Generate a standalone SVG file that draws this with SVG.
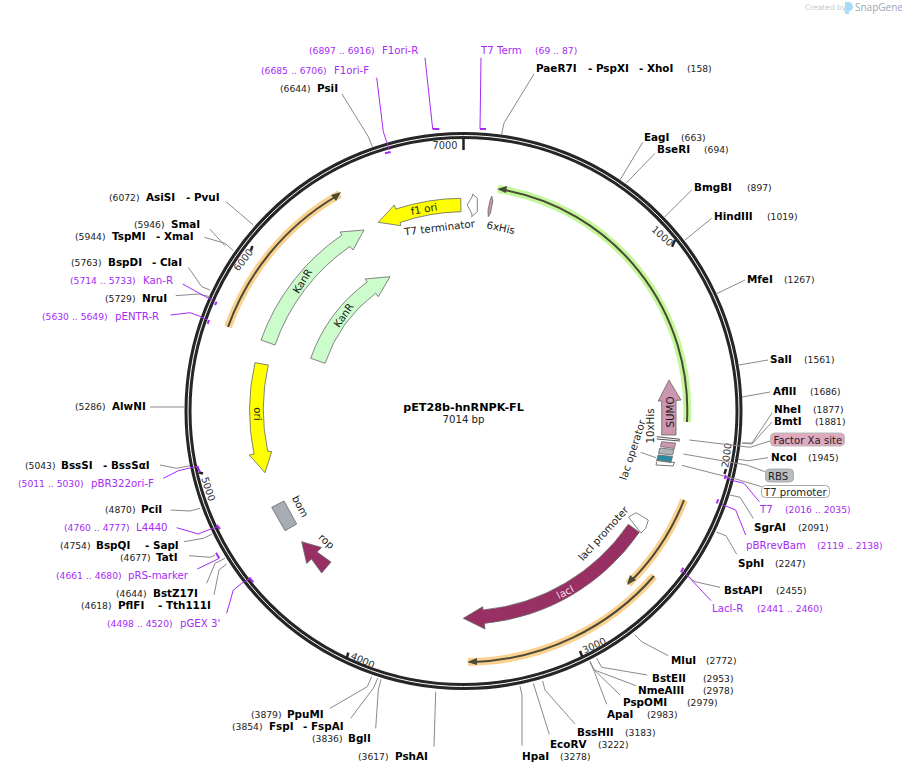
<svg xmlns="http://www.w3.org/2000/svg" width="902" height="773" viewBox="0 0 902 773">
<style>
text{font-family:"DejaVu Sans",Verdana,sans-serif;fill:#222}
.e{font-size:10.4px;font-weight:bold;fill:#000}
.n{font-size:9.2px;fill:#222}
.p{font-size:10.2px;fill:#a52bf5}
.q{font-size:9.2px;fill:#a52bf5}
.l{fill:none;stroke:#8a8a8a;stroke-width:1}
.pl{fill:none;stroke:#a52bf5;stroke-width:1}
.pt{fill:none;stroke:#a52bf5;stroke-width:2}
.f{font-size:10.3px;fill:#1a1a1a}
.c{stroke:#666;stroke-width:.8}
.t{font-size:9.8px;fill:#333}
.tick{stroke:#222;stroke-width:2.5}
.hl{fill:none;stroke-width:8}
.pr{fill:none;stroke:#4a4a38;stroke-width:2}
.pa{fill:#4a4a38}
.box{font-size:10.1px;fill:#222}
</style>
<g id="logo">
<text x="805" y="10" style="font-size:7.5px;fill:#c4c9ce">Created by</text>
<path d="M845 2h3c4 0 5 3 5 5s-2 4-4 4v3h-4z" fill="#a6dcf5"/>
<text x="855" y="11" style="font-family:'Open Sans',sans-serif;font-size:10px;fill:#9aa6b0">SnapGene</text>
</g>
<g id="backbone">
<circle cx="463.5" cy="411" r="275.5" fill="none" stroke="#262626" stroke-width="7"/>
<circle cx="463.5" cy="411" r="275.5" fill="none" stroke="#fff" stroke-width="1"/>
<line class="tick" x1="463.5" y1="138" x2="463.5" y2="150"/>
<line class="tick" x1="675" y1="240" x2="672" y2="246.7"/>
<line class="tick" x1="726" y1="469" x2="724.5" y2="474"/>
<line class="tick" x1="580" y1="651" x2="582.3" y2="656.7"/>
<line class="tick" x1="348.3" y1="652.7" x2="346.7" y2="658.3"/>
<line class="tick" x1="199" y1="472.5" x2="203" y2="473.5"/>
<line class="tick" x1="252.3" y1="246" x2="251" y2="250.7"/>
<text class="t" text-anchor="middle" transform="translate(445 149)">7000</text>
<text class="t" text-anchor="middle" transform="translate(660 238.5) rotate(42)">1000</text>
<text class="t" text-anchor="middle" transform="translate(730 455.6) rotate(-82)">2000</text>
<text class="t" text-anchor="middle" transform="translate(595.6 648.6) rotate(-24)">3000</text>
<text class="t" text-anchor="middle" transform="translate(361.3 663.6) rotate(25)">4000</text>
<text class="t" text-anchor="middle" transform="translate(205 490) rotate(72)">5000</text>
<text class="t" text-anchor="middle" transform="translate(246 262) rotate(-52)">6000</text>
</g>
<g id="title">
<text x="463.5" y="411" text-anchor="middle" style="font-size:11.2px;font-weight:bold;fill:#000">pET28b-hnRNPK-FL</text>
<text x="463.5" y="423" text-anchor="middle" style="font-size:10.2px;fill:#222">7014 bp</text>
</g>
<g id="connectors">
<path class="l" d="M534 74L504 123L501.5 135"/>
<path class="l" d="M642.7 142.3L620 180"/>
<path class="l" d="M655 153.3L626 183.3"/>
<path class="l" d="M691.7 190L664.3 217.3"/>
<path class="l" d="M711.7 218.3L685 240"/>
<path class="l" d="M745 280L716 294"/>
<path class="l" d="M768 360L739 365"/>
<path class="l" d="M770 392L742 397"/>
<path class="l" d="M772 413L752 443L742 443"/>
<path class="l" d="M772 422L752 444L742 443"/>
<path class="l" d="M770 441L750 447.3L689.3 440"/>
<path class="l" d="M768 457.7L748.3 460.7L738.3 459.3"/>
<path class="l" d="M765 471.7L746.7 465L683.3 454"/>
<path class="l" d="M761.7 486.7L736.7 479.3L681.7 465.3"/>
<path class="l" d="M753.3 518.3L740 497.3L730 495"/>
<path class="l" d="M736.7 554.3L726 535.7L716.7 532.3"/>
<path class="l" d="M720 587.3L695 581.7L688.3 576.7"/>
<path class="l" d="M668.3 655.7L641.7 641.7L635 635"/>
<path class="l" d="M647.3 675L601.7 667.3L596.7 658.3"/>
<path class="l" d="M636 685.7L594.3 670L590 661.7"/>
<path class="l" d="M620 695L594.3 670L590 661.7"/>
<path class="l" d="M606.7 704.3L594.3 671.7L590 661.7"/>
<path class="l" d="M575 724L545 690L542.7 681"/>
<path class="l" d="M549.3 734.3L533.3 683.3"/>
<path class="l" d="M522 745.7L522 695.7L520 686"/>
<path class="l" d="M434 746.7L435.7 691.7"/>
<path class="l" d="M375.7 728.3L378.3 690L381 679.3"/>
<path class="l" d="M350.7 718.3L373.3 688.3L377.7 678.3"/>
<path class="l" d="M330 708.3L367.3 686.7L371.7 676.7"/>
<path class="l" d="M214 595L219 570L226.7 564"/>
<path class="l" d="M206.7 583.3L215 563.3L225 558.3"/>
<path class="l" d="M189 555.7L210 557.3L215 555"/>
<path class="l" d="M184 541.7L203.3 538.3L212.3 534"/>
<path class="l" d="M170.7 510L190 511L200 508.3"/>
<path class="l" d="M160 465L176.7 468.3L190 465.7"/>
<path class="l" d="M150 407L185 407"/>
<path class="l" d="M175.7 295.7L198.3 294L210 296.7"/>
<path class="l" d="M188.3 267.3L201.7 286.7L210 290"/>
<path class="l" d="M204.3 237.3L225 243.3L233.3 250.7"/>
<path class="l" d="M210 229.3L225 245.7"/>
<path class="l" d="M226 201.7L253.3 225"/>
<path class="l" d="M342 94L368.3 136.7L372.3 146.7"/>
<path class="pl" d="M425 57.7L432.7 129"/><path class="pt" d="M432.7 129H439.3"/>
<path class="pl" d="M481 57.7L480 129"/><path class="pt" d="M480 129H486"/>
<path class="pl" d="M376.7 77.7L383.3 131.7L389.3 150"/><path class="pt" d="M385 153.3L390.7 152"/>
<path class="pl" d="M759.3 501.7L744 483.3L733.3 480.7L725 477"/><path class="pt" d="M725.7 475L724.7 479"/>
<path class="pl" d="M745.7 535L735.7 510L721.7 504.3"/><path class="pt" d="M718.3 499.3L716.7 503.3"/>
<path class="pl" d="M711 600.7L690 578.3L682 570"/><path class="pt" d="M683.3 567.7L681 572.3"/>
<path class="pl" d="M182.7 284L206.7 297.3L213 300"/><path class="pt" d="M216.7 301.7L215 305"/>
<path class="pl" d="M170.7 315L190 312.7L199.3 316L207.7 320"/><path class="pt" d="M209 320L207.7 324"/>
<path class="pl" d="M163.3 478.3L178.3 470.7L195 466.7L199 467"/><path class="pt" d="M197 466L200 472"/>
<path class="pl" d="M176.7 527.7L198.3 534L210 529.3L216.7 527.3"/><path class="pt" d="M216.7 525L220 529"/>
<path class="pl" d="M197.3 569L219.3 558.3"/><path class="pt" d="M216 552.7L219.3 558.3"/>
<path class="pl" d="M226.7 613.3L233.3 590L241.7 583.3L250 578.3"/><path class="pt" d="M249.3 577.3L253.3 582.3"/>
<path class="l" d="M640.7 452.3L656 457.7"/>
</g>
<g id="primer-arcs">
<path class="hl" stroke="#c4f79a" d="M498 189A224 224 0 0 1 687 422"/>
<path class="pr" d="M504 190A224 224 0 0 1 687 422"/>
<path class="pa" d="M497 189L507 186L506 193Z"/>
<path class="hl" stroke="#fbd18f" d="M228 327A250 250 0 0 1 340 194"/>
<path class="pr" d="M228 327A250 250 0 0 1 335 197"/>
<path class="pa" d="M341 192L331 195L336 201Z"/>
<path class="hl" stroke="#fbd18f" d="M684 500A238 238 0 0 1 628 584"/>
<path class="pr" d="M684 500A238 238 0 0 1 632 580"/>
<path class="pa" d="M627 585L630 575L636 580Z"/>
<path class="hl" stroke="#fbd18f" d="M654 576A251 251 0 0 1 468 662"/>
<path class="pr" d="M654 576A251 251 0 0 1 474 662"/>
<path class="pa" d="M467 662L477 658L477 665Z"/>
</g>
<g id="KanR-1">
<path fill="#ccfccc" class="c" d="M261 340A214 214 0 0 1 342 235L340 232L364 230L353 250L350 246.4A200 200 0 0 0 275 345Z"/>
<text class="f" text-anchor="middle" transform="translate(305.5 283) rotate(-58)">KanR</text>
</g>
<g id="KanR-2">
<path fill="#ccfccc" class="c" d="M310.7 358.3A161 161 0 0 1 367.2 282L365 279L390 276.7L378.3 296.7L375.6 293.2A147 147 0 0 0 325 363.3Z"/>
<text class="f" text-anchor="middle" transform="translate(346.6 317.3) rotate(-55)">KanR</text>
</g>
<g id="ori">
<path fill="#ffff00" class="c" d="M255 362.7A214 214 0 0 0 254 454L249.3 455L265 472.7L271.7 451.7L267.7 451.2A200 200 0 0 1 268.3 365Z"/>
<text class="f" text-anchor="middle" transform="translate(253.5 414) rotate(90)">ori</text>
</g>
<g id="f1-ori">
<path fill="#ffff00" class="c" d="M460.7 198.3A213 213 0 0 0 395.7 209.1L394.3 205L378.3 222.3L400.7 225.7L400.2 222.4A199 199 0 0 1 461 211.7Z"/>
<text class="f" text-anchor="middle" transform="translate(424.7 212.6) rotate(-10)">f1 ori</text>
</g>
<g id="T7-terminator">
<path fill="#fff" class="c" d="M467.3 205L472.5 196L472.7 194L477.3 198.3L477.3 211.7L471.7 216.7L472 214Z"/>
<text class="f" text-anchor="middle" transform="translate(440 231.2) rotate(-7)">T7 terminator</text>
</g>
<g id="His6">
<path fill="#cc96b0" class="c" d="M491.7 196L492.8 201L490.5 213L488.3 216.7L488 210L490 201Z"/>
<text class="f" text-anchor="middle" transform="translate(500 231.2) rotate(12)">6xHis</text>
</g>
<g id="SUMO">
<path fill="#cc96b0" class="c" d="M669 380L681 400L676 400.5L676 435L661.7 435L661.7 401L658.3 401Z"/>
<text class="f" text-anchor="middle" transform="translate(673.5 412) rotate(-90)">SUMO</text>
</g>
<g id="His10">
<path fill="none" stroke="#555" stroke-width="1" d="M656.7 436.7L680 439.3M656.7 439L680 441"/>
<text class="f" text-anchor="middle" transform="translate(653.5 426) rotate(-90)">10xHis</text>
</g>
<g id="Factor-Xa-feature"><path fill="#cc96b0" class="c" d="M661.7 441.7L675.5 443L674.5 448.5L660.5 446.5Z"/></g>
<g id="RBS-feature"><path fill="#aeb4bb" class="c" d="M659.8 448L674 449.5L672.5 455L658.5 453.5Z"/></g>
<g id="lac-operator">
<path fill="#2c8aa3" class="c" d="M658 455L672.5 456.5L671 462.5L656.8 460.5Z"/>
<path fill="none" stroke="#777" stroke-width="1" d="M656 460L675 462.5M656.8 461.5L656 465L673 466L674.5 462"/>
<text class="f" text-anchor="middle" transform="translate(636 451) rotate(-72)">lac operator</text>
</g>
<g id="lacI-promoter">
<path fill="#fff" class="c" d="M628.5 517L636 512.7L648.3 520L645.7 528.3L641 533Z"/>
<text class="f" text-anchor="middle" transform="translate(606 536) rotate(-48)">lacI promoter</text>
</g>
<g id="lacI">
<path fill="#983064" class="c" d="M628.3 524.3A200 200 0 0 1 483 610L482.7 606.7L463.3 618.3L485 629L484.3 623.4A213.5 213.5 0 0 0 639.3 532.3Z"/>
<text class="f" text-anchor="middle" style="fill:#f3dbe7" transform="translate(566.8 595.3) rotate(-27)">lacI</text>
</g>
<g id="rop">
<path fill="#983064" class="c" d="M301.7 541.7L321.5 547.5L317 552L331 562L321.7 573L311.5 559L306.7 563.5Z"/>
<text class="f" text-anchor="middle" transform="translate(324 544) rotate(42)">rop</text>
</g>
<g id="bom">
<path fill="#a8adb5" class="c" d="M271.7 507.3L284 501L296.7 524L285 530.7Z"/>
<text class="f" text-anchor="middle" transform="translate(297 508) rotate(62)">bom</text>
</g>
<g id="site-PaeR7I"><text class="e" x="536" y="72">PaeR7I</text><text class="e" x="588" y="72">- PspXI</text><text class="e" x="639" y="72">- XhoI</text><text class="n" x="687" y="72">(158)</text></g>
<g id="site-EagI"><text class="e" x="644" y="141">EagI</text><text class="n" x="681" y="141">(663)</text></g>
<g id="site-BseRI"><text class="e" x="657" y="153">BseRI</text><text class="n" x="704" y="153">(694)</text></g>
<g id="site-BmgBI"><text class="e" x="694" y="191">BmgBI</text><text class="n" x="747" y="191">(897)</text></g>
<g id="site-HindIII"><text class="e" x="714" y="220">HindIII</text><text class="n" x="767" y="220">(1019)</text></g>
<g id="site-MfeI"><text class="e" x="747" y="283">MfeI</text><text class="n" x="784" y="283">(1267)</text></g>
<g id="site-SalI"><text class="e" x="770" y="363">SalI</text><text class="n" x="804" y="363">(1561)</text></g>
<g id="site-AflII"><text class="e" x="773" y="395">AflII</text><text class="n" x="810" y="395">(1686)</text></g>
<g id="site-NheI"><text class="e" x="774" y="413">NheI</text><text class="n" x="813" y="413">(1877)</text></g>
<g id="site-BmtI"><text class="e" x="774" y="425">BmtI</text><text class="n" x="815" y="425">(1881)</text></g>
<g id="label-FactorXa"><rect x="770.5" y="433" width="74" height="13" rx="4" fill="#dfa9c0" stroke="#bbb"/><text class="box" x="773.5" y="443.5">Factor Xa site</text></g>
<g id="label-RBS"><rect x="765.5" y="469" width="28" height="13" rx="4" fill="#b9bec4" stroke="#aaa"/><text class="box" x="768" y="479.5">RBS</text></g>
<g id="label-T7promoter"><rect x="761.5" y="485.5" width="68" height="12" rx="4" fill="#fff" stroke="#aaa"/><text class="box" x="764" y="495.5">T7 promoter</text></g>
<g id="site-NcoI"><text class="e" x="771" y="461">NcoI</text><text class="n" x="808" y="461">(1945)</text></g>
<g id="primer-T7"><text class="p" x="760" y="513">T7</text><text class="q" x="785" y="513">(2016 .. 2035)</text></g>
<g id="site-SgrAI"><text class="e" x="754" y="531">SgrAI</text><text class="n" x="798" y="531">(2091)</text></g>
<g id="primer-pBRrevBam"><text class="p" x="746" y="549">pBRrevBam</text><text class="q" x="817" y="549">(2119 .. 2138)</text></g>
<g id="site-SphI"><text class="e" x="738" y="567">SphI</text><text class="n" x="775" y="567">(2247)</text></g>
<g id="site-BstAPI"><text class="e" x="724" y="594">BstAPI</text><text class="n" x="776" y="594">(2455)</text></g>
<g id="primer-LacI-R"><text class="p" x="712" y="612">LacI-R</text><text class="q" x="757" y="612">(2441 .. 2460)</text></g>
<g id="site-MluI"><text class="e" x="671" y="664">MluI</text><text class="n" x="706" y="664">(2772)</text></g>
<g id="site-BstEII"><text class="e" x="652" y="682">BstEII</text><text class="n" x="703" y="682">(2953)</text></g>
<g id="site-NmeAIII"><text class="e" x="638" y="694">NmeAIII</text><text class="n" x="703" y="694">(2978)</text></g>
<g id="site-PspOMI"><text class="e" x="623" y="706">PspOMI</text><text class="n" x="687" y="706">(2979)</text></g>
<g id="site-ApaI"><text class="e" x="607" y="718">ApaI</text><text class="n" x="647" y="718">(2983)</text></g>
<g id="site-BssHII"><text class="e" x="577" y="736">BssHII</text><text class="n" x="625" y="736">(3183)</text></g>
<g id="site-EcoRV"><text class="e" x="550" y="748">EcoRV</text><text class="n" x="598" y="748">(3222)</text></g>
<g id="site-HpaI"><text class="e" x="522" y="760">HpaI</text><text class="n" x="560" y="760">(3278)</text></g>
<g id="site-PshAI"><text class="n" x="358" y="760">(3617)</text><text class="e" x="395" y="760">PshAI</text></g>
<g id="site-BglI"><text class="n" x="312" y="742">(3836)</text><text class="e" x="348" y="742">BglI</text></g>
<g id="site-FspI"><text class="n" x="232" y="730">(3854)</text><text class="e" x="269" y="730">FspI</text><text class="e" x="303" y="730">- FspAI</text></g>
<g id="site-PpuMI"><text class="n" x="251" y="718">(3879)</text><text class="e" x="287" y="718">PpuMI</text></g>
<g id="primer-pGEX3"><text class="q" x="107" y="627">(4498 .. 4520)</text><text class="p" x="180" y="627">pGEX 3'</text></g>
<g id="site-PflFI"><text class="n" x="81" y="609">(4618)</text><text class="e" x="118" y="609">PflFI</text><text class="e" x="158" y="609">- Tth111I</text></g>
<g id="site-BstZ17I"><text class="n" x="116" y="597">(4644)</text><text class="e" x="153" y="597">BstZ17I</text></g>
<g id="primer-pRS-marker"><text class="q" x="56" y="579">(4661 .. 4680)</text><text class="p" x="128" y="579">pRS-marker</text></g>
<g id="site-TatI"><text class="n" x="120" y="561">(4677)</text><text class="e" x="156" y="561">TatI</text></g>
<g id="site-BspQI"><text class="n" x="60" y="549">(4754)</text><text class="e" x="96" y="549">BspQI</text><text class="e" x="145" y="549">- SapI</text></g>
<g id="primer-L4440"><text class="q" x="64" y="531">(4760 .. 4777)</text><text class="p" x="136" y="531">L4440</text></g>
<g id="site-PciI"><text class="n" x="105" y="513">(4870)</text><text class="e" x="141" y="513">PciI</text></g>
<g id="primer-pBR322ori-F"><text class="q" x="18" y="487">(5011 .. 5030)</text><text class="p" x="91" y="487">pBR322ori-F</text></g>
<g id="site-BssSI"><text class="n" x="25" y="469">(5043)</text><text class="e" x="61" y="469">BssSI</text><text class="e" x="103" y="469">- BssSαI</text></g>
<g id="site-AlwNI"><text class="n" x="75" y="410">(5286)</text><text class="e" x="112" y="410">AlwNI</text></g>
<g id="primer-pENTR-R"><text class="q" x="42" y="320">(5630 .. 5649)</text><text class="p" x="115" y="320">pENTR-R</text></g>
<g id="site-NruI"><text class="n" x="105" y="302">(5729)</text><text class="e" x="142" y="302">NruI</text></g>
<g id="primer-Kan-R"><text class="q" x="70" y="284">(5714 .. 5733)</text><text class="p" x="143" y="284">Kan-R</text></g>
<g id="site-BspDI"><text class="n" x="71" y="266">(5763)</text><text class="e" x="108" y="266">BspDI</text><text class="e" x="152" y="266">- ClaI</text></g>
<g id="site-TspMI"><text class="n" x="75" y="240">(5944)</text><text class="e" x="112" y="240">TspMI</text><text class="e" x="156" y="240">- XmaI</text></g>
<g id="site-SmaI"><text class="n" x="134" y="228">(5946)</text><text class="e" x="171" y="228">SmaI</text></g>
<g id="site-AsiSI"><text class="n" x="109" y="201">(6072)</text><text class="e" x="146" y="201">AsiSI</text><text class="e" x="186" y="201">- PvuI</text></g>
<g id="site-PsiI"><text class="n" x="280" y="92">(6644)</text><text class="e" x="317" y="92">PsiI</text></g>
<g id="primer-F1ori-F"><text class="q" x="261" y="74">(6685 .. 6706)</text><text class="p" x="334" y="74">F1ori-F</text></g>
<g id="primer-F1ori-R"><text class="q" x="309" y="54">(6897 .. 6916)</text><text class="p" x="382" y="54">F1ori-R</text></g>
<g id="primer-T7Term"><text class="p" x="481" y="54">T7 Term</text><text class="q" x="535" y="54">(69 .. 87)</text></g>
</svg>
